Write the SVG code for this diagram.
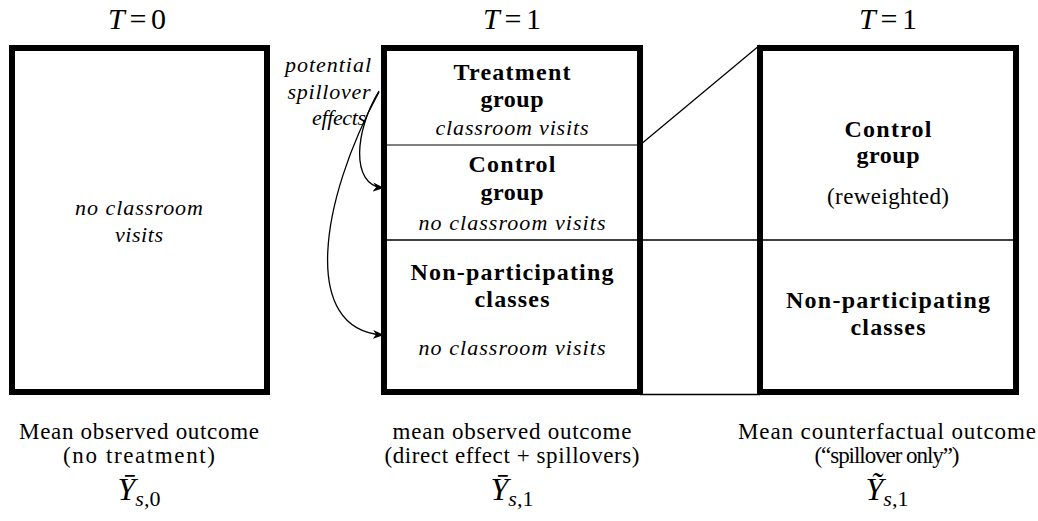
<svg xmlns="http://www.w3.org/2000/svg" width="1038" height="521" viewBox="0 0 1038 521" font-family="'Liberation Serif', 'Times New Roman', 'DejaVu Serif', serif">
<style>
text{font-family:'Liberation Serif','Times New Roman','DejaVu Serif',serif;fill:#000;text-anchor:middle}
.box{fill:none;stroke:#000;stroke-width:6}
.b{font-weight:bold;font-size:24px}
.i{font-style:italic;font-size:22px}
.r{font-size:23px}
.t{font-size:30px}
.m{font-size:32px;font-style:italic}
.thin{stroke:#000;stroke-width:1.3;fill:none}
</style>
<defs>
<marker id="ah" viewBox="0 0 11 10" refX="10" refY="5" markerWidth="11" markerHeight="10" markerUnits="userSpaceOnUse" orient="auto">
<path d="M0,0.5 L11,5 L0,9.5 L3,5 Z" fill="#000"/>
</marker>
</defs>
<rect width="1038" height="521" fill="#fff"/>
<g id="titles">
<text class="t" x="137" y="29" textLength="58"><tspan font-style="italic">T</tspan>=0</text>
<text class="t" x="512" y="29" textLength="58"><tspan font-style="italic">T</tspan>=1</text>
<text class="t" x="888" y="29" textLength="58"><tspan font-style="italic">T</tspan>=1</text>
</g>
<g id="box-t0">
<rect class="box" x="12" y="48" width="255" height="344"/>
<text class="i" x="139" y="215" textLength="128">no classroom</text>
<text class="i" x="139" y="242" textLength="48">visits</text>
</g>
<g id="box-t1">
<rect class="box" x="384" y="48" width="256" height="344"/>
<line x1="387" y1="145" x2="637" y2="145" stroke="#555" stroke-width="1.5"/>
<text class="b" x="512" y="80" textLength="117">Treatment</text>
<text class="b" x="512" y="107" textLength="63">group</text>
<text class="i" x="512" y="135" textLength="153">classroom visits</text>
<text class="b" x="512" y="172" textLength="87">Control</text>
<text class="b" x="512" y="200" textLength="63">group</text>
<text class="i" x="512" y="230" textLength="187">no classroom visits</text>
<text class="b" x="512" y="280" textLength="203">Non-participating</text>
<text class="b" x="512" y="307" textLength="75">classes</text>
<text class="i" x="512" y="355" textLength="187">no classroom visits</text>
</g>
<g id="box-cf">
<rect class="box" x="760" y="48" width="256" height="344"/>
<text class="b" x="888" y="137" textLength="87">Control</text>
<text class="b" x="888" y="163" textLength="63">group</text>
<text class="r" x="888" y="204" textLength="122">(reweighted)</text>
<text class="b" x="888" y="308" textLength="204">Non-participating</text>
<text class="b" x="888" y="335" textLength="75">classes</text>
</g>
<g id="spillover-label">
<text class="i" x="328" y="72" textLength="86">potential</text>
<text class="i" x="329" y="99" textLength="83">spillover</text>
<text class="i" x="339" y="125" textLength="54">effects</text>
</g>
<g id="connectors">
<line class="thin" x1="387" y1="240" x2="1013" y2="240"/>
<line class="thin" x1="640" y1="145" x2="760" y2="45"/>
<line class="thin" x1="640" y1="394.5" x2="760" y2="394.5"/>
<path class="thin" d="M379,91 C355,130 350,185 383,188" marker-end="url(#ah)"/>
<path class="thin" d="M379,92 C320,200 300,330 383,335" marker-end="url(#ah)"/>
</g>
<g id="captions">
<text class="r" x="139" y="439" textLength="240">Mean observed outcome</text>
<text class="r" x="139" y="463" textLength="152">(no treatment)</text>
<text class="m" x="139" y="500">Ȳ<tspan font-size="22" dy="6">s,</tspan><tspan font-size="22" font-style="normal">0</tspan></text>
<text class="r" x="512" y="439" textLength="239">mean observed outcome</text>
<text class="r" x="512" y="463" textLength="255">(direct effect + spillovers)</text>
<text class="m" x="512" y="500">Ȳ<tspan font-size="22" dy="6">s,</tspan><tspan font-size="22" font-style="normal">1</tspan></text>
<text class="r" x="887" y="439" textLength="298">Mean counterfactual outcome</text>
<text class="r" x="887" y="463" textLength="145">(“spillover only”)</text>
<text class="m" x="887" y="500">Ỹ<tspan font-size="22" dy="6">s,</tspan><tspan font-size="22" font-style="normal">1</tspan></text>
</g>
</svg>
